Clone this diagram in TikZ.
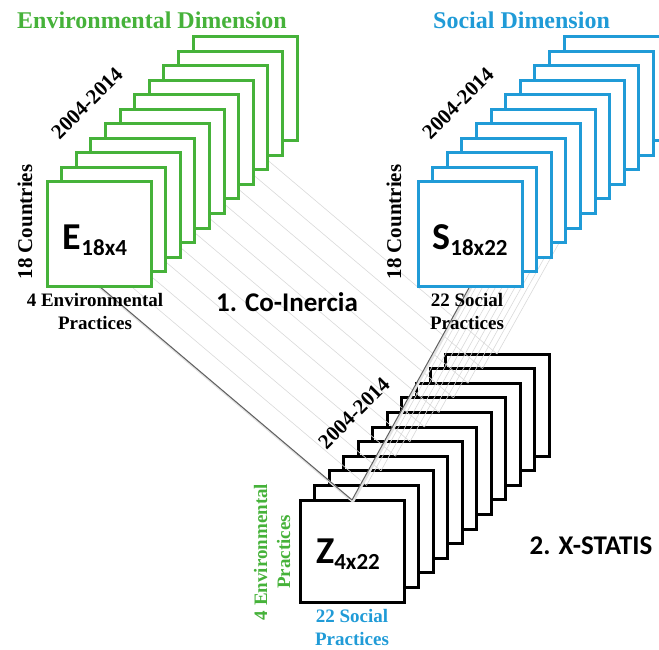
\documentclass[tikz,border=0pt]{standalone}
\usepackage{fontspec}
\setmainfont{Liberation Serif}
\newfontfamily\calibfont{Carlito}
\definecolor{envgreen}{RGB}{70,178,58}
\definecolor{socblue}{RGB}{32,155,215}
\pgfdeclarelayer{back}
\pgfdeclarelayer{lines}
\pgfsetlayers{back,lines,main}
\tikzset{
  sq/.style={draw, fill=white, line width=3pt, minimum width=104pt, minimum height=104pt, inner sep=0pt, outer sep=0pt},
  gsq/.style={sq, draw=envgreen},
  bsq/.style={sq, draw=socblue},
  ksq/.style={sq, draw=black, minimum height=102pt},
  lbl/.style={font=\bfseries\fontsize{19}{23}\selectfont, inner sep=0pt, align=center},
  yrs/.style={font=\bfseries\fontsize{21}{24}\selectfont, inner sep=0pt, rotate=45},
  ttl/.style={font=\bfseries\fontsize{24}{28}\selectfont, inner sep=0pt, anchor=base},
  stp/.style={font=\calibfont\bfseries\fontsize{27}{30}\selectfont, inner sep=0pt},
  mat/.style={font=\calibfont\bfseries, inner sep=0pt},
  lightln/.style={draw=gray!30, line width=0.6pt},
  darkln/.style={draw=gray!75!black, line width=1pt},
  shadowln/.style={draw=gray!22, line width=2.4pt, transform canvas={shift={(1pt,-1.6pt)}}}
}
\newcommand{\matlabel}[2]{{\fontsize{38}{38}\selectfont #1}\raisebox{-6pt}{\fontsize{23}{23}\selectfont #2}}
\begin{document}
\begin{tikzpicture}[x=1pt,y=-1pt]
\useasboundingbox (0,0) rectangle (659,650);
\clip (0,0) rectangle (659,650);
% black stack (behind connectors)
\begin{pgfonlayer}{back}
\foreach \k in {10,9,...,0}
  \node[ksq] (z\k) at ({352+14.5*\k},{551-14.6*\k}) {};
\end{pgfonlayer}
% green and blue stacks
\foreach \k in {10,9,...,0}
  \node[gsq] (g\k) at ({99+14.6*\k},{234-14.5*\k}) {};
\foreach \k in {10,9,...,0}
  \node[bsq] (s\k) at ({470+14.6*\k},{234-14.5*\k}) {};
% connectors
\begin{pgfonlayer}{lines}
\foreach \k in {10,9,...,1} {
  \draw[lightln] (g\k.south) -- (z\k.north);
  \draw[lightln] (s\k.south) -- (z\k.north);
}
\draw[shadowln] (g0.south) -- (z0.north);
\draw[shadowln] (s0.south) -- (z0.north);
\draw[darkln] (g0.south) -- (z0.north);
\draw[darkln] (s0.south) -- (z0.north);
\end{pgfonlayer}
% titles
\node[ttl, text=envgreen] (tenv) at (152,28.3) {Environmental Dimension};
\node[ttl, text=socblue] (tsoc) at (521.5,28.3) {Social Dimension};
% years
\node[yrs] (yg) at (87,103) {2004-2014};
\node[yrs] (ys) at (458,103) {2004-2014};
\node[yrs] (yz) at (354,413) {2004-2014};
% countries
\node[lbl, rotate=90, font=\bfseries\fontsize{21}{24}\selectfont] (cg) at (25,222) {18 Countries};
\node[lbl, rotate=90, font=\bfseries\fontsize{21}{24}\selectfont] (cs) at (394,222) {18 Countries};
% matrix labels
\node[mat] (le) at ([xshift=-4pt,yshift=-6pt]g0.center) {\matlabel{E}{18x4}};
\node[mat] (ls) at ([yshift=-6pt]s0.center) {\matlabel{S}{18x22}};
\node[mat] (lz) at ([xshift=-4pt,yshift=-3pt]z0.center) {\matlabel{Z}{4x22}};
% practices
\node[lbl] (pe) at (95,311) {4 Environmental\\Practices};
\node[lbl] (ps) at (467,311) {22 Social\\Practices};
\node[lbl, rotate=90, text=envgreen] (pze) at (272,552) {4 Environmental\\Practices};
\node[lbl, text=socblue] (pzs) at (352,627) {22 Social\\Practices};
% steps
\node[stp] (st1) at (287,302) {1. Co-Inercia};
\node[stp] (st2) at (591,546) {2. X-STATIS};
\end{tikzpicture}
\end{document}
